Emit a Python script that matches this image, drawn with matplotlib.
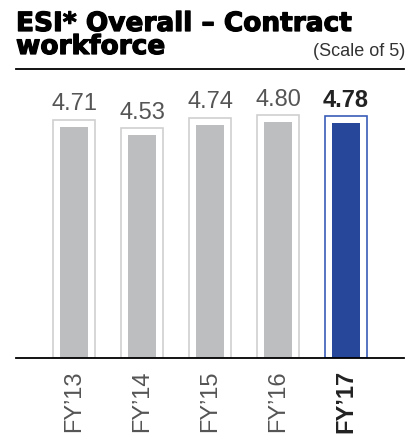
import numpy as np
import matplotlib
matplotlib.use('Agg')
import matplotlib.pyplot as plt
import matplotlib.patheffects as pe

plt.rcParams['font.family'] = ['Liberation Sans', 'DejaVu Sans']

years = ["FY’13", "FY’14", "FY’15", "FY’16", "FY’17"]
scores = [4.71, 4.53, 4.74, 4.80, 4.78]
title_lines = ['ESI* Overall – Contract', 'workforce']

fig = plt.figure(figsize=(4.17, 4.35), dpi=100)
ax = fig.add_axes([16/417, 1 - 359/435, 388/417, 289/435])

x = np.arange(len(years))
ymax = 5.88
pad = 7 / 289 * ymax

fills = ['#bdbec0'] * 4 + ['#26479a']
edges = ['#d0d0d0'] * 4 + ['#3a5cb8']

# outline boxes
ax.bar(x, [s + pad for s in scores], width=0.62, facecolor='none',
       edgecolor=edges, linewidth=1.2)
# inner bars
ax.bar(x, scores, width=0.41, color=fills)

for i, s in enumerate(scores):
    last = i == len(scores) - 1
    ax.annotate(f'{s:.2f}', (x[i], s + pad), xytext=(0, 4), textcoords='offset points',
                ha='center', va='bottom', fontsize=17,
                color='#222222' if last else '#555555',
                fontweight='bold' if last else 'normal')

ax.set_xlim(-58/68, (388-58)/68)
ax.set_ylim(0, ymax)
ax.set_yticks([])
ax.set_xticks(x)
ax.set_xticklabels(years, rotation=90, fontsize=17, color='#555555')
ax.get_xticklabels()[-1].set_fontweight('bold')
ax.get_xticklabels()[-1].set_color('#222222')
ax.tick_params(axis='x', length=0, pad=8)

for side in ['left', 'right']:
    ax.spines[side].set_visible(False)
ax.spines['bottom'].set_linewidth(1.3)
ax.spines['top'].set_linewidth(1.3)

for line, ypx in zip(title_lines, [32, 55]):
    t = fig.text(16/417, 1 - ypx/435, line, ha='left', va='baseline',
                 fontsize=19, fontweight='bold', family='DejaVu Sans', color='black')
    t.set_path_effects([pe.withStroke(linewidth=0.9, foreground='black')])
fig.text(405/417, 1 - 56/435, '(Scale of 5)', ha='right', va='baseline',
         fontsize=13, color='#333333')

fig.savefig('out.png', dpi=100)
